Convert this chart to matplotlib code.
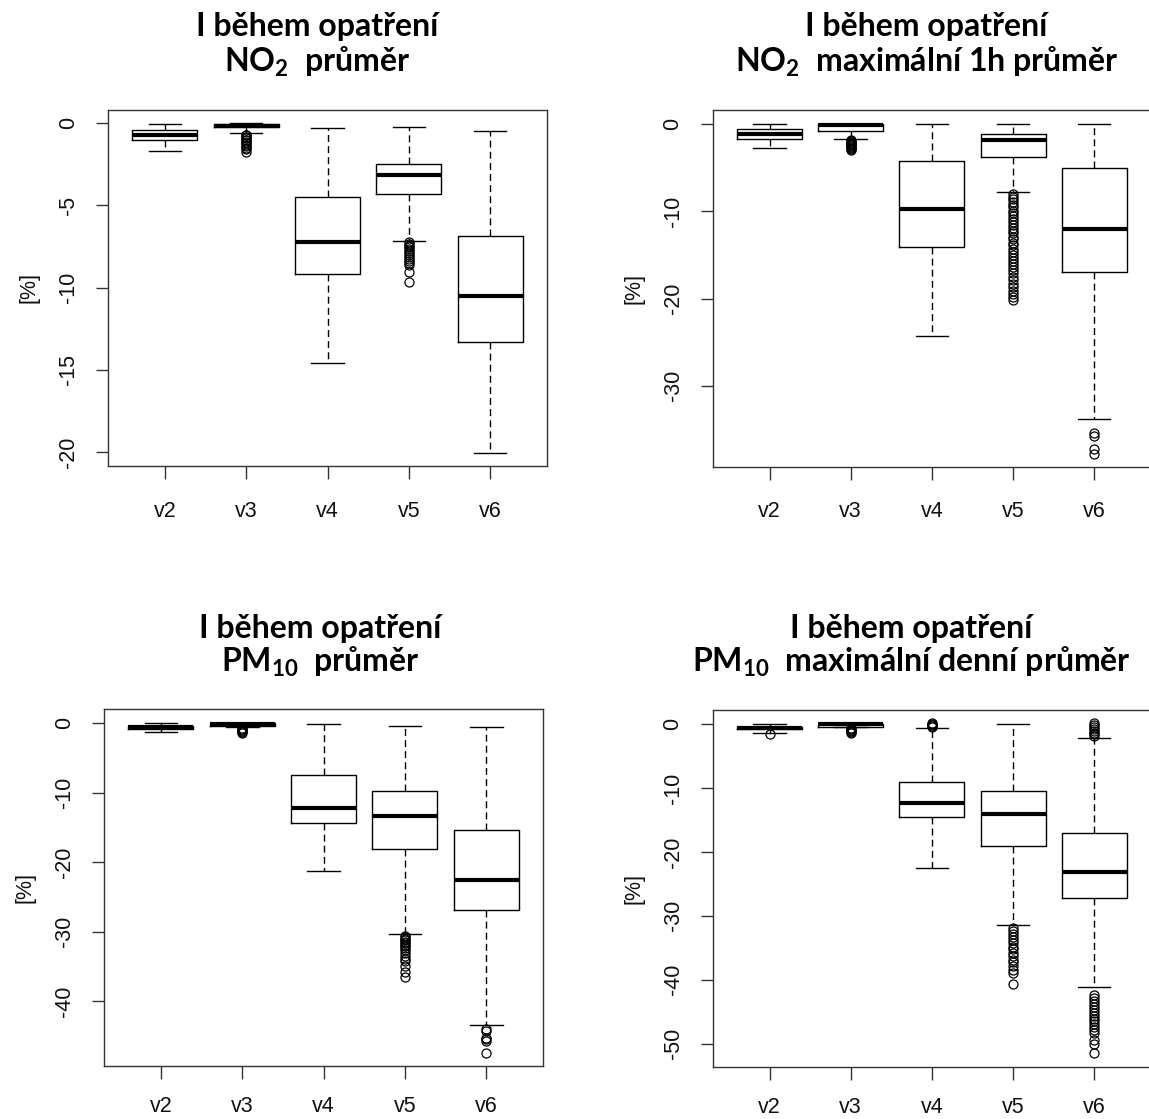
import matplotlib
matplotlib.use('Agg')
import matplotlib.pyplot as plt

plt.rcParams['font.family'] = ['Liberation Sans', 'DejaVu Sans']
plt.rcParams['axes.unicode_minus'] = False

labels = ['v2', 'v3', 'v4', 'v5', 'v6']
title_top = 'I během opatření'

# NO2 prumer
no2_avg_med = [-0.75, -0.15, -7.23, -3.15, -10.5]
no2_avg_q1 = [-1.0, -0.25, -9.19, -4.32, -13.3]
no2_avg_q3 = [-0.44, -0.05, -4.46, -2.46, -6.83]
no2_avg_lo = [-1.7, -0.6, -14.6, -7.17, -20.04]
no2_avg_hi = [-0.08, 0.0, -0.32, -0.22, -0.46]
no2_avg_out = [[],
               [-0.7, -0.75, -0.85, -0.9, -1.0, -1.05, -1.15, -1.2, -1.3, -1.4, -1.5, -1.6, -1.75],
               [],
               [-7.25, -7.35, -7.45, -7.55, -7.65, -7.8, -7.9, -8.0, -8.15, -8.25, -8.35, -8.5, -8.65, -9.07, -9.64],
               []]

# NO2 maximalni 1h prumer
no2_max_med = [-1.1, -0.08, -9.7, -1.8, -12.0]
no2_max_q1 = [-1.69, -0.73, -14.1, -3.76, -16.9]
no2_max_q3 = [-0.5, 0.0, -4.18, -1.1, -5.06]
no2_max_lo = [-2.76, -1.7, -24.3, -7.8, -33.8]
no2_max_hi = [0.0, 0.0, 0.0, 0.0, 0.1]
no2_max_out = [[],
               [-1.8, -1.9, -2.0, -2.1, -2.2, -2.3, -2.4, -2.5, -2.6, -2.7, -2.8, -2.9],
               [],
               [-8.0, -8.3, -8.6, -8.9, -9.2, -9.5, -9.9, -10.2, -10.5, -10.9, -11.2, -11.5,
                -11.9, -12.2, -12.5, -12.9, -13.2, -13.6, -13.9, -14.3, -14.6, -15.0, -15.3,
                -15.7, -16.0, -16.4, -16.7, -17.1, -17.5, -17.9, -18.3, -18.7, -19.1, -19.5,
                -19.8, -20.2],
               [-35.4, -35.8, -37.3, -37.8]]

# PM10 prumer
pm_avg_med = [-0.58, -0.05, -12.2, -13.3, -22.6]
pm_avg_q1 = [-0.78, -0.35, -14.3, -18.1, -26.9]
pm_avg_q3 = [-0.35, 0.0, -7.45, -9.75, -15.3]
pm_avg_lo = [-1.25, -0.5, -21.2, -30.3, -43.5]
pm_avg_hi = [0.0, 0.1, -0.15, -0.35, -0.53]
pm_avg_out = [[],
              [-0.7, -0.85, -1.0, -1.1, -1.25, -1.4],
              [],
              [-30.65, -30.8, -31.0, -31.2, -31.5, -31.7, -31.9, -32.0, -32.4, -32.7, -33.1,
               -33.5, -33.9, -34.2, -34.9, -35.8, -36.5],
              [-44.0, -44.3, -45.3, -45.5, -45.7, -47.4]]

# PM10 maximalni denni prumer
pm_max_med = [-0.63, 0.0, -12.4, -14.1, -23.2]
pm_max_q1 = [-0.8, -0.37, -14.6, -19.1, -27.2]
pm_max_q3 = [-0.4, 0.05, -9.0, -10.5, -17.1]
pm_max_lo = [-1.4, -0.45, -22.5, -31.4, -41.1]
pm_max_hi = [0.0, 0.1, -0.63, 0.0, -2.2]
pm_max_out = [[-1.5],
              [-0.6, -0.75, -0.9, -1.05, -1.2, -1.35],
              [0.2, 0.05, -0.1, -0.3, -0.45],
              [-31.9, -32.3, -32.8, -33.3, -33.8, -34.2, -34.8, -35.2, -35.8, -36.3, -36.9,
               -37.3, -37.9, -38.4, -39.0, -40.6],
              [0.2, -0.1, -0.4, -0.7, -1.0, -1.3, -1.6, -1.9,
               -42.4, -42.8, -43.3, -43.8, -44.2, -44.7, -45.2, -45.6, -46.1, -46.5, -47.0,
               -47.4, -47.9, -48.4, -49.4, -50.0, -51.5]]


def make_stats(med, q1, q3, lo, hi, out):
    stats = []
    for i in range(len(med)):
        stats.append(dict(med=med[i], q1=q1[i], q3=q3[i], whislo=lo[i], whishi=hi[i],
                          fliers=out[i], label=labels[i]))
    return stats


def draw_panel(ax, stats, ylim, yticks, xpad=16):
    ax.bxp(stats, positions=range(1, 6), widths=0.8, capwidths=0.4,
           boxprops=dict(color='black', lw=1.0),
           medianprops=dict(color='black', lw=3.0, solid_capstyle='butt'),
           whiskerprops=dict(color='black', lw=1.0, linestyle=(0, (5, 3))),
           capprops=dict(color='black', lw=1.0),
           flierprops=dict(marker='o', markerfacecolor='none', markeredgecolor='black',
                           markersize=6.5, markeredgewidth=0.9, linestyle='none'))
    ax.set_xlim(0.3, 5.7)
    ax.set_ylim(*ylim)
    ax.set_yticks(yticks)
    ax.set_yticklabels([str(t) for t in yticks])
    ax.set_xticks(range(1, 6))
    ax.set_xticklabels(labels)
    ax.tick_params(axis='both', labelsize=15.5, length=9, width=1.0, color='#333333',
                   labelcolor='#111111')
    ax.tick_params(axis='x', pad=xpad)
    ax.tick_params(axis='y', pad=12, labelrotation=90)
    for t in ax.get_yticklabels():
        t.set_verticalalignment('center')
    for s in ax.spines.values():
        s.set_color('#333333')
        s.set_linewidth(1.0)
    ax.text(-0.18, 0.5, '[%]', transform=ax.transAxes, rotation=90,
            ha='center', va='center', fontsize=15.5, color='#111111')


def plot_boxes():
    fig = plt.figure(figsize=(11.49, 11.19), dpi=100)

    ax1 = fig.add_axes([0.0940, 0.5836, 0.3821, 0.3181])
    ax2 = fig.add_axes([0.6203, 0.5829, 0.3815, 0.3188])
    ax3 = fig.add_axes([0.0905, 0.0476, 0.3823, 0.3185])
    ax4 = fig.add_axes([0.6203, 0.0468, 0.3815, 0.3188])

    draw_panel(ax1, make_stats(no2_avg_med, no2_avg_q1, no2_avg_q3, no2_avg_lo, no2_avg_hi, no2_avg_out),
               (-20.84, 0.8), [0, -5, -10, -15, -20])
    draw_panel(ax2, make_stats(no2_max_med, no2_max_q1, no2_max_q3, no2_max_lo, no2_max_hi, no2_max_out),
               (-39.3, 1.65), [0, -10, -20, -30])
    draw_panel(ax3, make_stats(pm_avg_med, pm_avg_q1, pm_avg_q3, pm_avg_lo, pm_avg_hi, pm_avg_out),
               (-49.3, 2.0), [0, -10, -20, -30, -40], xpad=13)
    draw_panel(ax4, make_stats(pm_max_med, pm_max_q1, pm_max_q3, pm_max_lo, pm_max_hi, pm_max_out),
               (-53.6, 2.24), [0, -10, -20, -30, -40, -50], xpad=13)

    tfont = dict(family=['Lato', 'DejaVu Sans'], weight='bold', fontsize=23,
                 ha='center', va='baseline')
    titles = [(0.2759, 0.9678, 0.9357, r'NO$_\mathregular{2}$  průměr'),
              (0.8064, 0.9678, 0.9357, r'NO$_\mathregular{2}$  maximální 1h průměr'),
              (0.2785, 0.4298, 0.3995, r'PM$_\mathregular{10}$  průměr'),
              (0.7929, 0.4298, 0.3995, r'PM$_\mathregular{10}$  maximální denní průměr')]
    for x, y1, y2, sub in titles:
        fig.text(x, y1, title_top, **tfont)
        fig.text(x, y2, sub, **tfont)

    fig.savefig('out.png', dpi=100)
    return fig


if __name__ == '__main__':
    plot_boxes()
